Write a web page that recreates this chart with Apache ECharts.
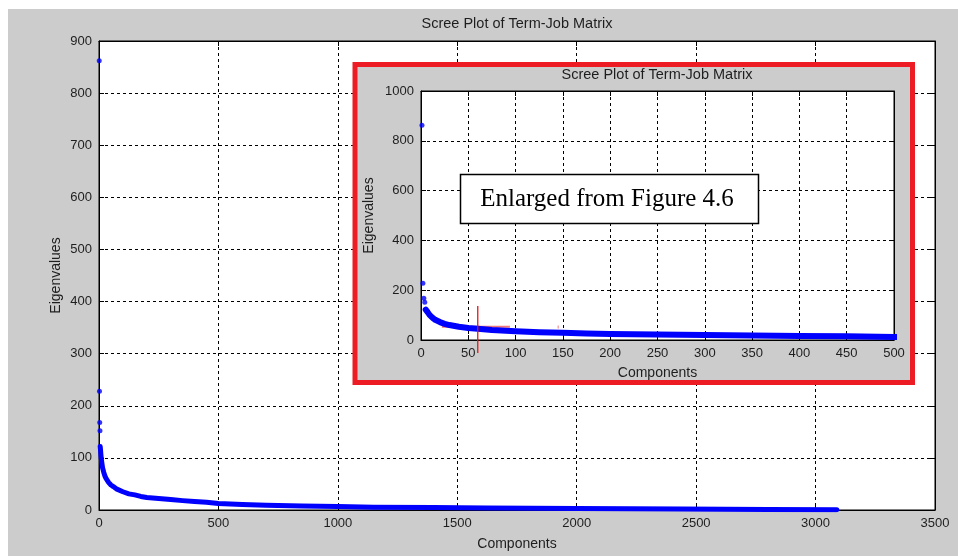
<!DOCTYPE html>
<html>
<head>
<meta charset="utf-8">
<script src="https://cdn.jsdelivr.net/npm/echarts@6/dist/echarts.min.js"></script>
<style>
  html, body { margin: 0; padding: 0; background: #fff; }
  #chart { width: 958px; height: 556px; }
</style>
</head>
<body>
<div id="chart"></div>
<script>
// Labels
const titleText = 'Scree Plot of Term-Job Matrix';
const xName = 'Components';
const yName = 'Eigenvalues';
const noteText = 'Enlarged from Figure 4.6';

// Axis ranges: [min, max, interval]
const mainXRange = [0, 3500, 500];
const mainYRange = [0, 900, 100];
const insetXRange = [0, 500, 50];
const insetYRange = [0, 1000, 200];

// The first few eigenvalues stand apart as single points
const leadComps = [1, 2, 3, 4];
const leadEigs = [862, 228, 168, 152];

// The rest of the spectrum forms a dense band of points
const bandComps = [5, 6, 7, 8, 9, 10, 12, 15, 20, 25, 30, 40, 50, 60, 75, 100, 125, 150, 175, 200,
                   250, 300, 350, 400, 450, 500, 600, 700, 850, 1000, 1150, 1400, 1625, 2000, 2440, 2800, 3089];
const bandEigs  = [122, 117, 112, 106, 101, 97, 90, 81, 72, 65, 60, 53, 48, 45, 40, 35, 31, 29, 26, 24,
                   22, 20, 18, 16.5, 15, 12.5, 10.5, 9, 7.5, 6.5, 5.5, 4.8, 3.8, 2.9, 2, 1, 0.5];

// Hand-drawn cut-off marks on the enlarged view
const cutComps = [60, 60];
const cutEigs = [137, -52];
const levelComps = [22, 94];
const levelEigs = [53, 53];
const tickComps = [145, 145];
const tickEigs = [58, 46];

const zip = (xs, ys) => xs.map((x, i) => [x, ys[i]]);

const FONT = '"Liberation Sans", Arial, sans-serif';
const TEXT = '#1e1e1e';
const BLUE = '#0000ff';
const GRAY = '#cccccc';

function valueAxis(range, opts) {
  return Object.assign({
    type: 'value',
    min: range[0],
    max: range[1],
    interval: range[2],
    nameMoveOverlap: false,
    axisLine: { show: true, onZero: false, lineStyle: { color: '#000', width: 1 } },
    axisTick: { show: true, inside: true, length: 5, lineStyle: { color: '#000' } },
    axisLabel: { color: TEXT, fontSize: 13, fontFamily: FONT, margin: 7,
                 formatter: v => String(v) },
    splitLine: { show: true, showMinLine: false, showMaxLine: false,
                 lineStyle: { color: '#000', width: 1, type: [3, 3] } },
    nameTextStyle: { color: TEXT, fontSize: 14, fontFamily: FONT }
  }, opts);
}

function mirrorAxis(range, opts) {
  return valueAxis(range, Object.assign({
    axisLabel: { show: false },
    splitLine: { show: false }
  }, opts));
}

const chart = echarts.init(document.getElementById('chart'), null, { renderer: 'canvas' });

chart.setOption({
  animation: false,
  backgroundColor: '#fff',
  grid: [
    { left: 99, top: 41, right: 23, bottom: 46, show: true, backgroundColor: '#fff',
      borderColor: '#000', borderWidth: 1, z: 0 },
    { left: 421, top: 91, right: 64, bottom: 216, show: true, backgroundColor: '#fff',
      borderColor: '#000', borderWidth: 1, z: 4 }
  ],
  xAxis: [
    valueAxis(mainXRange, { gridIndex: 0, position: 'bottom', name: xName,
                            nameLocation: 'middle', nameGap: 27 }),
    mirrorAxis(mainXRange, { gridIndex: 0, position: 'top' }),
    valueAxis(insetXRange, { gridIndex: 1, position: 'bottom', name: xName,
                             nameLocation: 'middle', nameGap: 26, z: 5 }),
    mirrorAxis(insetXRange, { gridIndex: 1, position: 'top', z: 5 })
  ],
  yAxis: [
    valueAxis(mainYRange, { gridIndex: 0, position: 'left', name: yName,
                            nameLocation: 'middle', nameGap: 36 }),
    mirrorAxis(mainYRange, { gridIndex: 0, position: 'right' }),
    valueAxis(insetYRange, { gridIndex: 1, position: 'left', name: yName,
                             nameLocation: 'middle', nameGap: 45, z: 5 }),
    mirrorAxis(insetYRange, { gridIndex: 1, position: 'right', z: 5 })
  ],
  series: [
    // full spectrum
    { type: 'line', xAxisIndex: 0, yAxisIndex: 0, data: zip(bandComps, bandEigs),
      showSymbol: false, lineStyle: { color: BLUE, width: 5, cap: 'round', join: 'round' }, z: 2 },
    { type: 'scatter', xAxisIndex: 0, yAxisIndex: 0, data: zip(leadComps, leadEigs),
      symbol: 'circle', symbolSize: 5, itemStyle: { color: BLUE }, z: 3 },
    // enlarged first 500 components
    { type: 'line', xAxisIndex: 2, yAxisIndex: 2, data: zip(levelComps, levelEigs),
      showSymbol: false, lineStyle: { color: '#f07878', width: 2 }, z: 6 },
    { type: 'line', xAxisIndex: 2, yAxisIndex: 2, data: zip(bandComps, bandEigs),
      showSymbol: false, lineStyle: { color: BLUE, width: 6, cap: 'round', join: 'round' }, z: 7 },
    { type: 'scatter', xAxisIndex: 2, yAxisIndex: 2, data: zip(leadComps, leadEigs),
      symbol: 'circle', symbolSize: 5, itemStyle: { color: BLUE }, z: 7 },
    { type: 'line', xAxisIndex: 2, yAxisIndex: 2, data: zip(cutComps, cutEigs), clip: false,
      showSymbol: false, lineStyle: { color: '#ee1111', width: 1.3 }, z: 8 },
    { type: 'line', xAxisIndex: 2, yAxisIndex: 2, data: zip(tickComps, tickEigs),
      showSymbol: false, lineStyle: { color: '#f07878', width: 1 }, z: 8 }
  ],
  graphic: {
    elements: [
      // figure background
      { type: 'rect', z: -10, silent: true,
        shape: { x: 8, y: 9, width: 950, height: 547 }, style: { fill: GRAY } },
      // main title
      { type: 'text', z: 1, silent: true, x: 517, y: 24,
        style: { text: titleText, fill: TEXT, fontSize: 14.5, fontFamily: FONT,
                 align: 'center', verticalAlign: 'middle' } },
      // red frame around the enlarged view
      { type: 'rect', z: 3, silent: true,
        shape: { x: 355, y: 64.5, width: 557.5, height: 318 },
        style: { fill: GRAY, stroke: '#ed1c24', lineWidth: 5 } },
      { type: 'text', z: 4, silent: true, x: 657, y: 75,
        style: { text: titleText, fill: TEXT, fontSize: 14.5, fontFamily: FONT,
                 align: 'center', verticalAlign: 'middle' } },
      // note box
      { type: 'rect', z: 10, silent: true,
        shape: { x: 460.5, y: 174.5, width: 298, height: 49 },
        style: { fill: '#fff', stroke: '#000', lineWidth: 1.5 } },
      { type: 'text', z: 11, silent: true, x: 607, y: 199.5,
        style: { text: noteText, fill: '#000', fontSize: 25,
                 fontFamily: '"Liberation Serif", "Times New Roman", serif',
                 align: 'center', verticalAlign: 'middle' } }
    ]
  }
});
</script>
</body>
</html>
